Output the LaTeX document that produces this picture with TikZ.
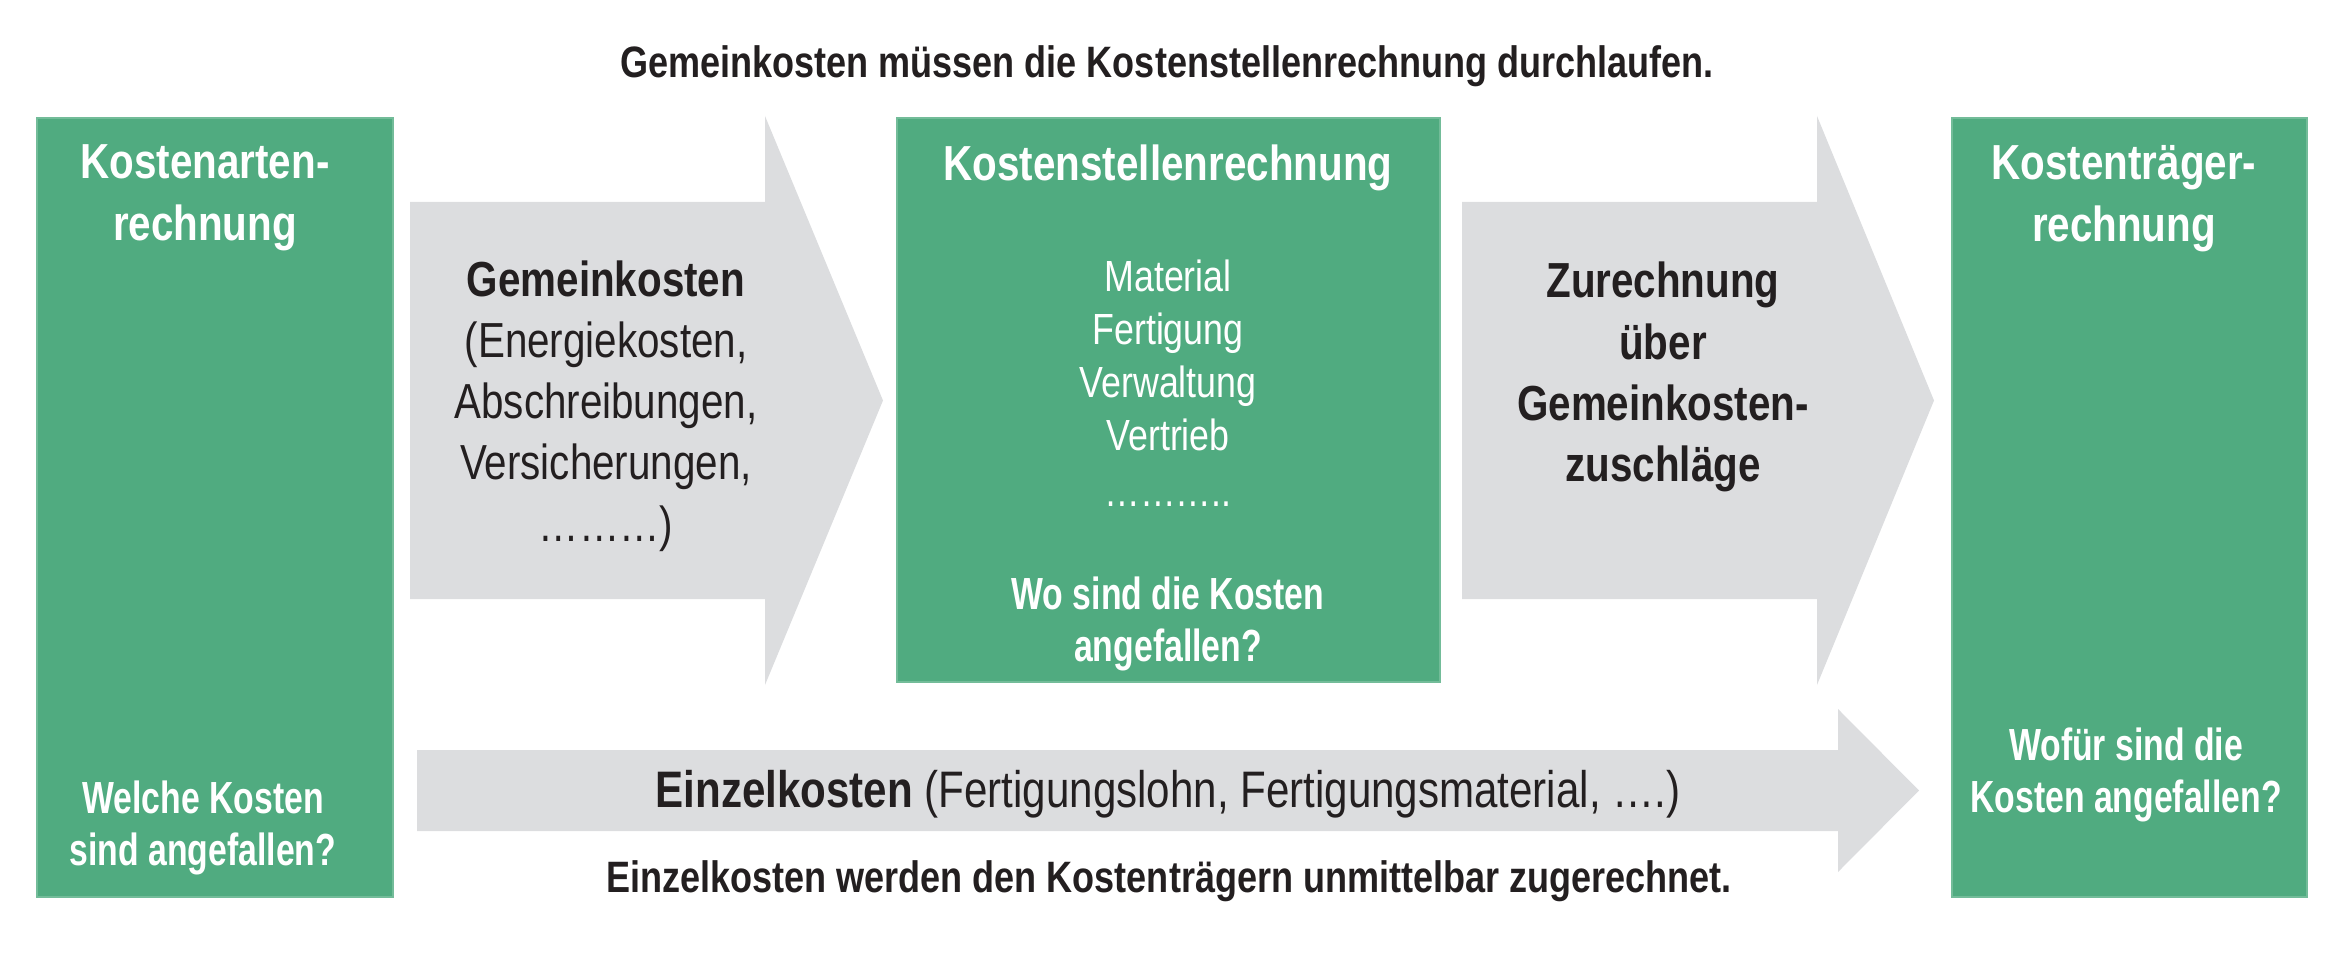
\documentclass[tikz,border=0pt]{standalone}
\usepackage{fontspec}
\setmainfont{Liberation Sans}[FakeStretch=0.82]
\newfontfamily\narrowfont{Liberation Sans}[FakeStretch=0.75]
\usepackage{tikz}
\usetikzlibrary{positioning}

\definecolor{kgreen}{RGB}{80,171,128}
\definecolor{kgray}{RGB}{220,221,223}
\definecolor{ktext}{RGB}{35,31,32}

\begin{document}
\begin{tikzpicture}[
    x=0.01cm, y=-0.01cm,
    box/.style={rectangle, fill=kgreen, draw=kgreen!80!white, line width=0.6pt, inner sep=0pt},
    head/.style={text=white, align=center, inner sep=0pt, font=\fontsize{14}{17.6}\selectfont\bfseries},
    question/.style={text=white, align=center, inner sep=0pt, font=\narrowfont\fontsize{12.8}{15}\selectfont\bfseries},
    center list/.style={text=white, align=center, inner sep=0pt, font=\fontsize{12.4}{15.1}\selectfont},
    blocktext/.style={text=ktext, align=center, inner sep=0pt, font=\fontsize{14}{17.4}\selectfont},
    note/.style={text=ktext, inner sep=0pt, font=\fontsize{12.5}{15}\selectfont\bfseries},
    grayarrow/.style={fill=kgray}
]
\useasboundingbox (0,0) rectangle (2348,964);

% Title
\node[note] (title) at (1167,66) {Gemeinkosten müssen die Kostenstellenrechnung durchlaufen.};

% Green boxes
\node[box, minimum width=3.56cm, minimum height=7.79cm] (kar) at (215,507.5) {};
\node[box, minimum width=5.43cm, minimum height=5.64cm] (ksr) at (1168.5,400) {};
\node[box, minimum width=3.55cm, minimum height=7.79cm] (ktr) at (2129.5,507.5) {};

% Gray block arrows
\fill[grayarrow] (410,202) -- (765,202) -- (765,116) -- (883,400.5) -- (765,685) -- (765,599) -- (410,599) -- cycle;
\fill[grayarrow] (1462,202) -- (1817,202) -- (1817,116) -- (1934,400.5) -- (1817,685) -- (1817,599) -- (1462,599) -- cycle;
\fill[grayarrow] (417,750) -- (1838,750) -- (1838,709) -- (1919,790.5) -- (1838,872) -- (1838,831) -- (417,831) -- cycle;

% Box texts
\node[head] (kar-title) at (205,198) {Kostenarten-\\rechnung};
\node[question] (kar-q) at (203,828) {Welche Kosten\\sind angefallen?};

\node[head] (ksr-title) at (1168,168) {Kostenstellenrechnung};
\node[center list] (ksr-list) at (1168,383) {Material\\Fertigung\\Verwaltung\\Vertrieb\\[0.9pt]………..};
\node[question] (ksr-q) at (1168,624) {Wo sind die Kosten\\angefallen?};

\node[head] (ktr-title) at (2124,199) {Kostenträger-\\rechnung};
\node[question] (ktr-q) at (2126,775) {Wofür sind die\\Kosten angefallen?};

% Arrow texts
\node[blocktext] (gk) at (606,406) {\textbf{Gemeinkosten}\\(Energiekosten,\\Abschreibungen,\\Versicherungen,\\………)};
\node[blocktext, font=\fontsize{14}{17.4}\selectfont\bfseries] (zur) at (1663,377) {Zurechnung\\über\\Gemeinkosten-\\zuschläge};
\node[blocktext, font=\fontsize{14.6}{17.4}\selectfont] (ek) at (1168,794) {\textbf{Einzelkosten} (Fertigungslohn, Fertigungsmaterial, ….)};

% Bottom note
\node[note] (ek-note) at (1169,881) {Einzelkosten werden den Kostenträgern unmittelbar zugerechnet.};

\end{tikzpicture}
\end{document}
